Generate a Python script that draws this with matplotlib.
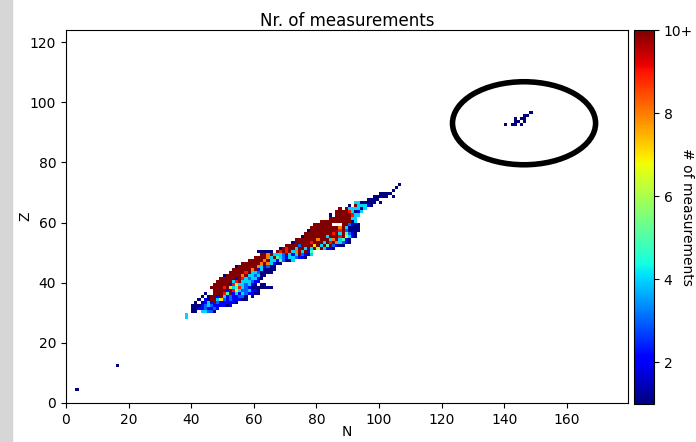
import numpy as np
import matplotlib
matplotlib.use('Agg')
import matplotlib.pyplot as plt
from matplotlib.patches import Ellipse, Rectangle

### Cells: (Z, first N, counts along N).
### '.' = no measurement, '1'..'9' = count, 'X' = 10 or more.
rows = [
    (28, 38, "4"),
    (29, 38, "4"),
    (30, 40, "11.44331"),
    (31, 40, "112232232"),
    (32, 40, "1112343222212"),
    (33, 41, "1.1242X3222221"),
    (34, 42, "1.21XX4732322211"),
    (35, 43, "1.1XX2X42322331.1"),
    (36, 44, "1..XXX95X242432211"),
    (37, 45, "..XXXX2X974334221"),
    (38, 46, "XXXX9X74594321111111"),
    (39, 47, "XXXXX297443421.11"),
    (40, 48, "XXXXX49X444322"),
    (41, 49, "XXXXX2X9434421"),
    (42, 50, "1XXXXX8X443411"),
    (43, 52, "XXXXX9X4431111"),
    (44, 53, "XXXXXX8X241111"),
    (45, 54, "1XXXXXX842311"),
    (46, 56, "XXXXXX8X84211"),
    (47, 58, "XXXXX8X44253114"),
    (48, 60, "XXXX84X5432443221"),
    (49, 62, "XX8X4443X424X3214"),
    (50, 61, "11111.X9X9X48X4X25"),
    (51, 68, "1X9XX4XX4X4X6X4221"),
    (52, 70, "XXXX3XXXX7X4X5X3211"),
    (53, 72, "1XXXXX9XXX4X9X84321"),
    (54, 73, "XXXXXXX8XXX48X4521"),
    (55, 75, "1XXXXXXX4XXX9X6421"),
    (56, 76, "XXXXXXXXX9X4X5321"),
    (57, 77, "1XXXXXXXXX9X31111"),
    (58, 78, "XXXXXXXXX8X41111"),
    (59, 79, "XXXXXX...XX3211"),
    (60, 81, "XXXXXXXXXX14"),
    (61, 84, "XXXXXXX44"),
    (62, 84, "1.XXXXX944"),
    (63, 86, "XXXX94124"),
    (64, 87, "X.X444414"),
    (65, 90, "1.X44421"),
    (66, 92, "4411111.1"),
    (67, 96, "1111"),
    (68, 98, "11111.1"),
    (69, 100, "1111"),
    (70, 104, "1"),
    (71, 105, "1"),
    (72, 106, "1"),
]

### Isolated cells (light nuclei and the circled heavy group).
extra_N = [3, 16, 148, 146, 147, 143, 145, 146, 143, 144, 146, 140, 142, 143, 145]
extra_Z = [4, 12, 96, 95, 95, 94, 94, 94, 93, 93, 93, 92, 92, 92, 92]
extra_cnt = [1, 1, 1, 1, 1, 1, 1, 1, 1, 1, 1, 1, 1, 1, 1]

cbar_ticks = [2, 4, 6, 8, 10]
cbar_labels = ['2', '4', '6', '8', '10+']

nN, nZ = 180, 124
counts = np.full((nZ, nN), np.nan)
for z, n0, s in rows:
    for i, c in enumerate(s):
        if c == '.':
            continue
        counts[z, n0 + i] = 10 if c == 'X' else int(c)
for n, z, c in zip(extra_N, extra_Z, extra_cnt):
    counts[z, n] = c

fig = plt.figure(figsize=(6.96, 4.42), dpi=100)
ax = fig.add_axes([66/696, 39/442, 562/696, 373/442])
cax = fig.add_axes([634/696, 38/442, 20/696, 374/442])

# grey window edge at the left of the screenshot
fig.patches.append(Rectangle((0, 0), 12/696, 1, transform=fig.transFigure,
                             color='#d6d6d6', zorder=0))

mesh = ax.pcolormesh(np.arange(nN + 1), np.arange(nZ + 1), np.ma.masked_invalid(counts),
                     cmap='jet', vmin=1, vmax=10)
ax.set_xlim(0, 179.5)
ax.set_ylim(0, 124)
ax.set_xticks(np.arange(0, 161, 20))
ax.set_yticks(np.arange(0, 121, 20))
ax.tick_params(labelsize=10)
ax.set_xlabel('N', fontsize=10, labelpad=-1)
ax.set_ylabel('Z', fontsize=10, labelpad=-2)
ax.set_title('Nr. of measurements', fontsize=12, pad=3)

ax.add_patch(Ellipse((146.3, 93), 45.7, 27.6, fill=False, edgecolor='black', lw=4))

cbar = fig.colorbar(mesh, cax=cax, ticks=cbar_ticks)
cbar.ax.set_yticklabels(cbar_labels)
cbar.ax.tick_params(labelsize=10)
cbar.set_label('# of measurements', rotation=270, fontsize=10)
cbar.ax.yaxis.set_label_coords(2.65, 0.5)
cbar.ax.yaxis.label.set_horizontalalignment('center')
cbar.ax.yaxis.label.set_verticalalignment('center')

fig.savefig('out.png', dpi=100)
